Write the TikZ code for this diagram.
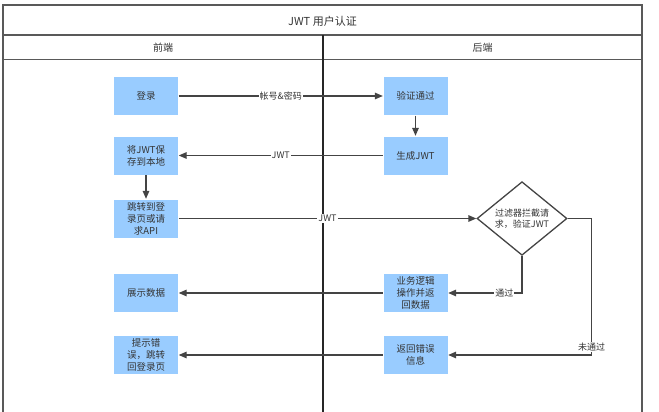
\documentclass[tikz,border=0pt]{standalone}
\usepackage{fontspec}
\setmainfont{Noto Sans CJK SC}
\usetikzlibrary{arrows.meta, shapes.geometric}
\definecolor{boxblue}{HTML}{99CCFF}
\definecolor{linegray}{HTML}{444444}
\definecolor{textgray}{HTML}{333333}

\begin{document}
\begin{tikzpicture}[x=1pt, y=-1pt, line width=1.3pt, draw=linegray, text=textgray,
  box/.style={fill=boxblue, draw=none, minimum width=64pt, minimum height=38pt, align=center, font=\fontsize{9.5}{12}\selectfont, inner sep=1pt},
  lbl/.style={fill=white, inner sep=1pt, font=\fontsize{9}{10}\selectfont},
  arr/.style={-{Triangle[length=8pt, width=6.5pt]}},
  frame/.style={line width=1.8pt, draw=black!65}]
			\useasboundingbox (0,0) rectangle (659,412);
			% swimlane frame
			\draw [frame] (3,412) -- (3,5) -- (642,5) -- (642,412);
			\draw [frame] (3,35) -- (642,35);
			\draw [frame] (3,59.5) -- (642,59.5);
			\draw [line width=1.2pt, draw=black!85] (323,35) -- (323,412);
			\node (title) at (322.5,21) {\fontsize{11}{13}\selectfont JWT 用户认证};
			\node (front) at (163,48) {\fontsize{10}{12}\selectfont 前端};
			\node (back) at (482.5,48) {\fontsize{10}{12}\selectfont 后端};
			% steps
			\node [box] (login) at (146,96) {登录};
			\node [box] (verify) at (415.5,96) {验证通过};
			\node [box] (genjwt) at (415.5,155.5) {生成JWT};
			\node [box] (savejwt) at (146,155.5) {将JWT保\\存到本地};
			\node [box] (jump) at (146,218.5) {跳转到登\\录页或请\\求API};
			\node [diamond, draw, fill=white, minimum width=90pt, minimum height=69pt, inner sep=0pt, align=center, font=\fontsize{9}{11}\selectfont] (filter) at (522,218.5) {过滤器拦截请\\求，验证JWT};
			\node [box] (biz) at (415.5,293) {业务逻辑\\操作并返\\回数据};
			\node [box] (show) at (146,293) {展示数据};
			\node [box] (err) at (415.5,355) {返回错误\\信息};
			\node [box] (tip) at (146,355) {提示错\\误，跳转\\回登录页};
			% connectors
			\draw [arr] (login) -- node[lbl] {帐号\&密码} (verify);
			\draw [arr] (verify) -- (genjwt);
			\draw [arr] (genjwt) -- node[lbl] {JWT} (savejwt);
			\draw [arr] (savejwt) -- (jump);
			\draw [arr] (jump) -- node[lbl] {JWT} (filter);
			\draw [arr] (filter.south) |- node[lbl, pos=.62] {通过} (biz);
			\draw [arr] (filter.east) -- ++(24,0) |- node[lbl, pos=.47] {未通过} (err);
			\draw [arr] (biz) -- (show);
			\draw [arr] (err) -- (tip);
\end{tikzpicture}
\end{document}
